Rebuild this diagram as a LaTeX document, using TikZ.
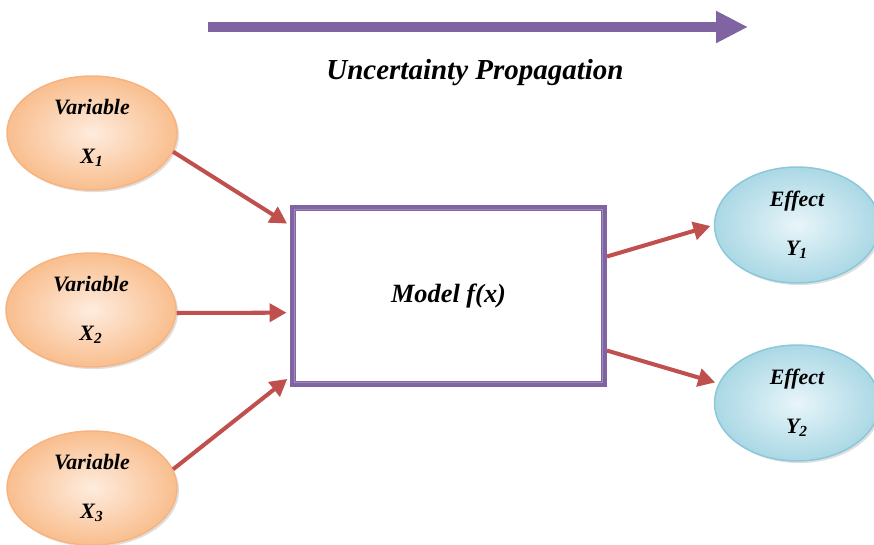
\documentclass[tikz,border=0pt]{standalone}
\usepackage{fontspec}
\setmainfont{Liberation Serif}
\usetikzlibrary{shapes.geometric,arrows.meta,shadows}

\definecolor{fiolet}{RGB}{128,100,162}
\definecolor{fioletsvet}{RGB}{160,138,190}
\definecolor{krasn}{RGB}{192,80,77}
\definecolor{oranzhin}{RGB}{254,236,222}
\definecolor{oranzhout}{RGB}{249,190,142}
\definecolor{oranzhkraj}{RGB}{247,180,128}
\definecolor{golubin}{RGB}{232,245,249}
\definecolor{goluboutt}{RGB}{170,216,229}
\definecolor{golubkraj}{RGB}{140,200,218}

\tikzset{
  tenj/.style={drop shadow={opacity=0.25,shadow xshift=1.2pt,shadow yshift=-1.2pt}},
  vhod/.style={ellipse, minimum width=3.4cm, minimum height=2.28cm, draw=oranzhkraj,
    line width=0.3mm, inner color=oranzhin, outer color=oranzhout, tenj, align=center,
    font=\fontsize{12.5}{27.5}\selectfont\bfseries\itshape},
  vyhod/.style={ellipse, minimum width=3.3cm, minimum height=2.32cm, draw=golubkraj,
    line width=0.3mm, inner color=golubin, outer color=goluboutt, tenj, align=center,
    font=\fontsize{12.5}{27.5}\selectfont\bfseries\itshape},
  strelka/.style={krasn, line width=2.3pt, -{Triangle[length=0.34cm,width=0.36cm]}, shorten >=2pt}
}

\begin{document}
\begin{tikzpicture}[x=0.02cm,y=-0.02cm]
\useasboundingbox (0,0) rectangle (874,544);

%верхняя стрелка
\coordinate (nachalo) at (208,27);
\coordinate (konec) at (748,27);
\draw[fiolet, line width=5.7pt, -{Triangle[length=0.64cm,width=0.6cm]}] (nachalo) -- (konec);
\node[font=\fontsize{16.5}{20}\selectfont\bfseries\itshape] (podpis) at (475,73) {Uncertainty Propagation};

%модель
\node[draw=fiolet, line width=3.4pt, minimum width=6.22cm, minimum height=3.52cm,
  font=\fontsize{15}{18}\selectfont\bfseries\itshape] (model) at (448.5,296) {Model f(x)};
\draw[fioletsvet, line width=0.8pt] ([shift={(0.085cm,-0.085cm)}]model.north west) rectangle ([shift={(-0.085cm,0.085cm)}]model.south east);

%левые эллипсы
\node[vhod] (x1) at (92,133) {Variable\\X\textsubscript{1}};
\node[vhod] (x2) at (91,310) {Variable\\X\textsubscript{2}};
\node[vhod] (x3) at (92,488) {Variable\\X\textsubscript{3}};

%правые эллипсы
\node[vyhod] (y1) at (797,225) {Effect\\Y\textsubscript{1}};
\node[vyhod] (y2) at (797,403) {Effect\\Y\textsubscript{2}};

%стрелки
\draw[strelka] (x1.-13) -- (model.156);
\draw[strelka] (x2.-2) -- (model.186);
\draw[strelka] (x3.13) -- (model.207);
\draw[strelka] (model.14) -- (y1.180);
\draw[strelka] (model.-19) -- (y2.166);

\end{tikzpicture}
\end{document}
